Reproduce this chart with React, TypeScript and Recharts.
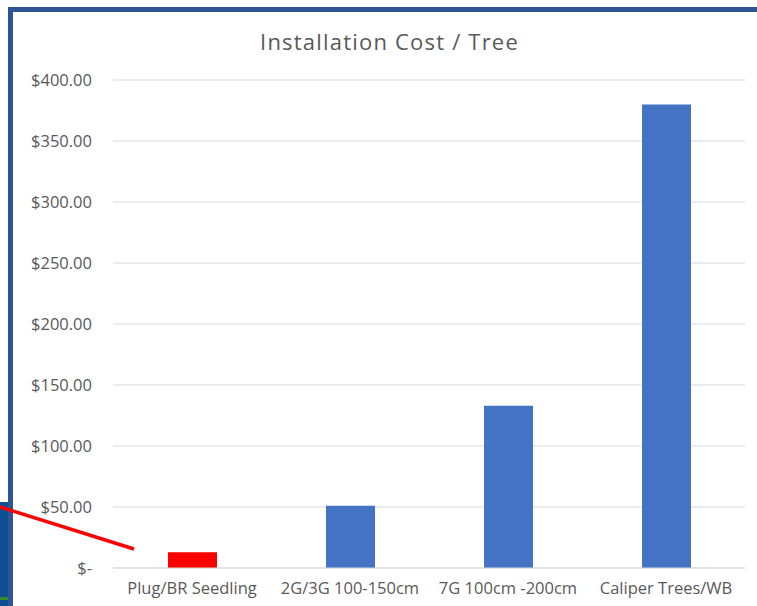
import React from "react"
import { BarChart, Bar, XAxis, YAxis, CartesianGrid, Cell } from "recharts"

const categories = ["Plug/BR Seedling", "2G/3G 100-150cm", "7G 100cm -200cm", "Caliper Trees/WB"]
const costs = [13, 51, 133, 380]
const barColors = ["#FF0000", "#4472C4", "#4472C4", "#4472C4"]
const yTicks = [0, 50, 100, 150, 200, 250, 300, 350, 400]

const data = categories.map((name, i) => ({ name, cost: costs[i] }))

const fmt = (v: number) => (v === 0 ? "$-" : "$" + v.toFixed(2))

const font = "'Open Sans', sans-serif"

export default function App() {
  return (
    <div style={{ position: "absolute", left: 0, top: 0, width: 757, height: 606, background: "#fff", overflow: "hidden", fontFamily: font }}>
      {/* slide background peeking in bottom-left */}
      <div style={{ position: "absolute", left: 0, top: 502, width: 8, height: 104, background: "#0D4E95" }} />
      <div style={{ position: "absolute", left: 0, top: 597, width: 8, height: 3, background: "#3C8A2E" }} />
      {/* chart frame */}
      <div style={{ position: "absolute", left: 8, top: 7, width: 749, height: 599, borderLeft: "5px solid #2F5597", borderTop: "5px solid #2F5597", boxSizing: "border-box" }} />
      <div style={{ position: "absolute", left: 0, top: 26, width: 779, textAlign: "center", fontSize: 22, letterSpacing: 1.2, color: "#595959" }}>
        Installation Cost / Tree
      </div>
      <div style={{ position: "absolute", left: 0, top: 0 }}>
        <BarChart width={757} height={606} data={data} margin={{ top: 80, right: 12, bottom: 8, left: 0 }}>
          <CartesianGrid vertical={false} stroke="#d9d9d9" />
          <XAxis
            dataKey="name"
            height={30}
            axisLine={{ stroke: "#d9d9d9" }}
            tickLine={false}
            tickSize={0}
            tickMargin={14}
            tick={{ fill: "#595959", fontSize: 16.5, fontFamily: font }}
            interval={0}
          />
          <YAxis
            width={113}
            domain={[0, 400]}
            ticks={yTicks}
            tickFormatter={fmt}
            axisLine={false}
            tickLine={false}
            tickSize={0}
            tickMargin={21}
            tick={{ fill: "#595959", fontSize: 16.5, fontFamily: font }}
          />
          <Bar dataKey="cost" barSize={49} isAnimationActive={false}>
            {data.map((d, i) => (
              <Cell key={d.name} fill={barColors[i]} />
            ))}
          </Bar>
        </BarChart>
      </div>
      <svg style={{ position: "absolute", left: 0, top: 0 }} width={757} height={606}>
        <line x1={0} y1={507} x2={134} y2={549} stroke="#FF0000" strokeWidth={3.5} />
      </svg>
    </div>
  )
}
